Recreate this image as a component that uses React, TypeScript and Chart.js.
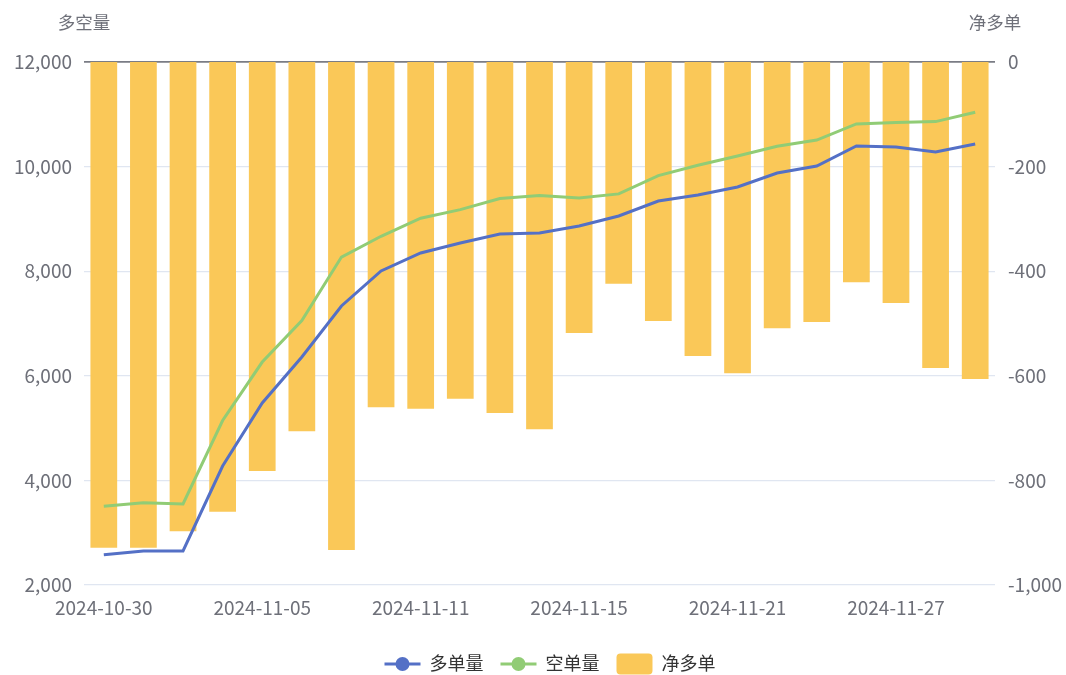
import React, { useEffect, useRef } from 'react';
import { Chart, registerables } from 'chart.js';

Chart.register(...registerables);

const FONT = '"Noto Sans CJK SC", "Noto Sans", sans-serif';

const categories = [
  '2024-10-30', '2024-10-31', '2024-11-01', '2024-11-04', '2024-11-05', '2024-11-06',
  '2024-11-07', '2024-11-08', '2024-11-11', '2024-11-12', '2024-11-13', '2024-11-14',
  '2024-11-15', '2024-11-18', '2024-11-19', '2024-11-20', '2024-11-21', '2024-11-22',
  '2024-11-25', '2024-11-26', '2024-11-27', '2024-11-28', '2024-11-29',
];

const longVolume = [
  2580, 2650, 2650, 4275, 5480, 6360, 7335, 8004, 8348, 8540, 8711, 8730,
  8864, 9055, 9342, 9457, 9610, 9878, 10011, 10394, 10375, 10279, 10432,
];

const shortVolume = [
  3505, 3572, 3549, 5145, 6263, 7057, 8270, 8668, 9014, 9177, 9391, 9445,
  9400, 9478, 9828, 10025, 10204, 10390, 10508, 10815, 10845, 10860, 11040,
];

const netLong = [
  -929, -929, -897, -860, -782, -706, -933, -660, -663, -644, -671, -702,
  -518, -424, -495, -562, -595, -509, -497, -421, -461, -585, -606,
];

const seriesNames = ['多单量', '空单量', '净多单'];
const axisTitles = ['多空量', '净多单'];
const colors = ['#5470C6', '#91CC75', '#FAC858'];

const leftAxis = { min: 2000, max: 12000, step: 2000 };
const rightAxis = { min: -1000, max: 0, step: 200 };

const fmt = (v: number) => Number(v).toLocaleString('en-US');

const overlayPlugin = {
  id: 'overlay',
  afterDraw(chart: any) {
    const { ctx, chartArea } = chart;
    ctx.save();
    // axis titles
    ctx.font = `17.5px ${FONT}`;
    ctx.fillStyle = '#6E7079';
    ctx.textAlign = 'center';
    ctx.textBaseline = 'middle';
    ctx.fillText(axisTitles[0], chartArea.left, 22);
    ctx.fillText(axisTitles[1], chartArea.right, 22);

    // legend
    const ds = chart.data.datasets;
    const iconW = 36;
    const iconH = 21;
    const textGap = 9;
    const itemGap = 17;
    ctx.font = `18px ${FONT}`;
    const widths = ds.map((d: any) => iconW + textGap + ctx.measureText(d.label).width);
    const total = widths.reduce((a: number, b: number) => a + b, 0) + itemGap * (ds.length - 1);
    let x = 550 - total / 2;
    const y = 664;
    ds.forEach((d: any, i: number) => {
      const c = d.type === 'line' ? d.borderColor : d.backgroundColor;
      if (d.type === 'line') {
        ctx.strokeStyle = c;
        ctx.lineWidth = 3;
        ctx.beginPath();
        ctx.moveTo(x, y);
        ctx.lineTo(x + iconW, y);
        ctx.stroke();
        ctx.fillStyle = c;
        ctx.beginPath();
        ctx.arc(x + iconW / 2, y, 7, 0, Math.PI * 2);
        ctx.fill();
      } else {
        ctx.fillStyle = c;
        ctx.beginPath();
        (ctx as any).roundRect(x, y - iconH / 2, iconW, iconH, 4);
        ctx.fill();
      }
      ctx.fillStyle = '#333';
      ctx.textAlign = 'left';
      ctx.textBaseline = 'middle';
      ctx.fillText(d.label, x + iconW + textGap, y - 1);
      x += widths[i] + itemGap;
    });
    ctx.restore();
  },
};

export default function App() {
  const ref = useRef<HTMLCanvasElement | null>(null);

  useEffect(() => {
    if (!ref.current) return;
    const tickFont = { family: FONT, size: 19 };
    const chart = new Chart(ref.current, {
      type: 'bar',
      data: {
        labels: categories,
        datasets: [
          {
            type: 'line',
            label: seriesNames[0],
            data: longVolume,
            borderColor: colors[0],
            backgroundColor: colors[0],
            borderWidth: 3,
            pointRadius: 0,
            tension: 0,
            yAxisID: 'y',
          } as any,
          {
            type: 'line',
            label: seriesNames[1],
            data: shortVolume,
            borderColor: colors[1],
            backgroundColor: colors[1],
            borderWidth: 3,
            pointRadius: 0,
            tension: 0,
            yAxisID: 'y',
          } as any,
          {
            type: 'bar',
            label: seriesNames[2],
            data: netLong,
            backgroundColor: colors[2],
            borderWidth: 0,
            categoryPercentage: 1,
            barPercentage: 0.675,
            yAxisID: 'y1',
          } as any,
        ],
      },
      options: {
        responsive: true,
        maintainAspectRatio: false,
        animation: false,
        layout: { padding: { top: 62, left: 0, right: 0, bottom: 50 } },
        plugins: {
          legend: { display: false },
          tooltip: { enabled: false },
          title: { display: false },
        },
        scales: {
          x: {
            offset: true,
            grid: { display: false, drawTicks: false },
            border: { display: false },
            afterFit: (s: any) => { s.height = 40; },
            ticks: {
              autoSkip: false,
              maxRotation: 0,
              padding: 11,
              color: '#6E7079',
              font: tickFont,
              callback: (_v: any, i: number) => (i % 4 === 0 ? categories[i] : ''),
            },
          },
          y: {
            position: 'left',
            min: leftAxis.min,
            max: leftAxis.max,
            afterFit: (s: any) => { s.width = 84; },
            border: { display: false },
            grid: {
              drawTicks: false,
              color: (c: any) => (c.tick && c.tick.value === leftAxis.max ? '#7A7C85' : '#E0E6F1'),
              lineWidth: (c: any) => (c.tick && c.tick.value === leftAxis.max ? 1.8 : 1.2),
            },
            ticks: {
              stepSize: leftAxis.step,
              padding: 12,
              color: '#6E7079',
              font: tickFont,
              callback: (v: any) => fmt(v),
            },
          },
          y1: {
            position: 'right',
            min: rightAxis.min,
            max: rightAxis.max,
            afterFit: (s: any) => { s.width = 71; },
            border: { display: false },
            grid: { display: false, drawTicks: false },
            ticks: {
              stepSize: rightAxis.step,
              padding: 13,
              color: '#6E7079',
              font: tickFont,
              callback: (v: any) => fmt(v),
            },
          },
        },
      },
      plugins: [overlayPlugin],
    });
    return () => chart.destroy();
  }, []);

  return (
    <div style={{ position: 'fixed', left: 0, top: 0, width: 1066, height: 675, background: '#fff' }}>
      <canvas ref={ref} />
    </div>
  );
}
